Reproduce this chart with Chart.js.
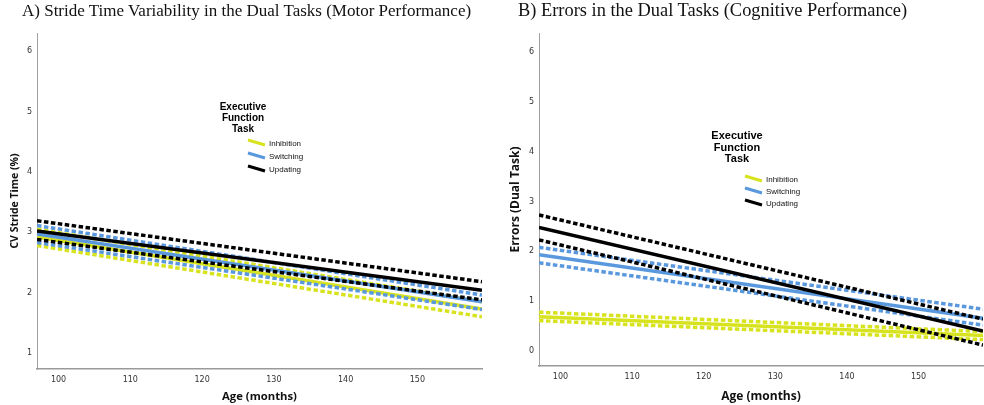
<!DOCTYPE html>
<html>
<head>
  <title>Dual Task Performance by Age</title>
  <script src="https://cdn.jsdelivr.net/npm/chart.js"></script>
  <style>
    body { margin: 0; background: #fff; width: 984px; height: 405px; overflow: hidden; position: relative; }
    .title { position: absolute; font-family: "Liberation Serif", "Times New Roman", serif; color: #111; white-space: nowrap; z-index: 2; }
    #title-a { left: 22px; top: 1px; font-size: 17px; }
    #title-b { left: 518px; top: 0px; font-size: 18.4px; }
    #motor-chart { position: absolute; left: 0; top: 0; }
    #cognitive-chart { position: absolute; left: 495px; top: 0; }
  </style>
</head>
<body>
  <div class="title" id="title-a">A) Stride Time Variability in the Dual Tasks (Motor Performance)</div>
  <div class="title" id="title-b">B) Errors in the Dual Tasks (Cognitive Performance)</div>
  <canvas id="motor-chart" width="492" height="405"></canvas>
  <canvas id="cognitive-chart" width="489" height="405"></canvas>
  <script>
    // age (months) at the two ends of each fitted line
    const ageRange = [97, 159];
    const ageTicks = [100, 110, 120, 130, 140, 150];

    // A) CV stride time (%), [start, end]
    const motorUpdating = [3.02, 2.04];
    const motorUpdatingUpper = [3.19, 2.18];
    const motorUpdatingLower = [2.88, 1.88];
    const motorSwitching = [2.97, 1.85];
    const motorSwitchingUpper = [3.11, 1.96];
    const motorSwitchingLower = [2.83, 1.72];
    const motorInhibition = [2.92, 1.73];
    const motorInhibitionUpper = [3.05, 1.85];
    const motorInhibitionLower = [2.78, 1.60];
    const motorTicks = [1, 2, 3, 4, 5, 6];

    // B) errors in dual task, [start, end]
    const cogUpdating = [2.48, 0.40];
    const cogUpdatingUpper = [2.73, 0.64];
    const cogUpdatingLower = [2.23, 0.12];
    const cogSwitching = [1.93, 0.66];
    const cogSwitchingUpper = [2.08, 0.84];
    const cogSwitchingLower = [1.77, 0.52];
    const cogInhibition = [0.69, 0.31];
    const cogInhibitionUpper = [0.78, 0.39];
    const cogInhibitionLower = [0.61, 0.23];
    const cogTicks = [0, 1, 2, 3, 4, 5, 6];

    const taskNames = ['Inhibition', 'Switching', 'Updating'];
    const YELLOW = '#d8e31f';
    const BLUE = '#5a98de';
    const BLACK = '#000000';

    function line(values, color, dashed) {
      return {
        data: ageRange.map((x, i) => ({x: x, y: values[i]})),
        borderColor: color,
        backgroundColor: color,
        borderWidth: 3.5,
        borderDash: dashed ? [4.5, 2.5] : [],
        pointRadius: 0,
        showLine: true,
        fill: false
      };
    }

    // little legend drawn inside the plot, like the SPSS output
    const taskLegend = {
      id: 'taskLegend',
      afterDraw(chart, args, opts) {
        const ctx = chart.ctx;
        ctx.save();
        ctx.fillStyle = '#000';
        ctx.textAlign = 'center';
        ctx.textBaseline = 'middle';
        ctx.font = 'bold ' + opts.titleSize + 'px "Liberation Sans", Arial, sans-serif';
        ['Executive', 'Function', 'Task'].forEach((t, i) => {
          ctx.fillText(t, opts.x, opts.y + i * opts.titleGap);
        });
        const colors = [YELLOW, BLUE, BLACK];
        ctx.textAlign = 'left';
        ctx.font = opts.itemSize + 'px "Liberation Sans", Arial, sans-serif';
        taskNames.forEach((name, i) => {
          const y = opts.itemY + i * opts.itemGap;
          ctx.strokeStyle = colors[i];
          ctx.lineWidth = 3;
          ctx.beginPath();
          ctx.moveTo(opts.segX, y - 3);
          ctx.lineTo(opts.segX + opts.segW, y + 2);
          ctx.stroke();
          ctx.fillStyle = '#111';
          ctx.fillText(name, opts.segX + opts.segW + 4, y + 1);
        });
        ctx.restore();
      }
    };

    function makeOptions(cfg) {
      return {
        responsive: false,
        animation: false,
        layout: { padding: { top: 33, right: cfg.rightPad, left: 0, bottom: 0 } },
        plugins: {
          legend: { display: false },
          tooltip: { enabled: false },
          taskLegend: cfg.legend
        },
        scales: {
          x: {
            type: 'linear',
            min: ageRange[0],
            max: ageRange[1],
            afterBuildTicks: s => { s.ticks = ageTicks.map(v => ({value: v})); },
            afterFit: s => { s.height = cfg.xHeight; },
            grid: { display: false, drawTicks: false },
            border: { display: true, color: '#9a9a9a', width: 1.5 },
            ticks: { color: '#333', padding: 6, font: { family: '"DejaVu Sans", Verdana, sans-serif', size: 8 } },
            title: {
              display: true, text: 'Age (months)', color: '#111',
              padding: { top: 0, bottom: 1 },
              font: { family: '"Open Sans", "DejaVu Sans", sans-serif', size: cfg.xTitleSize, weight: 'bold' }
            }
          },
          y: {
            type: 'linear',
            min: cfg.yMin,
            max: cfg.yMax,
            afterBuildTicks: s => { s.ticks = cfg.yTicks.map(v => ({value: v})); },
            afterFit: s => { s.width = cfg.yWidth; },
            grid: { display: false, drawTicks: false },
            border: { display: true, color: '#a0a0a0', width: 1, dash: [3, 2] },
            ticks: { color: '#333', padding: 5, font: { family: '"DejaVu Sans", Verdana, sans-serif', size: 8 } },
            title: {
              display: true, text: cfg.yTitle, color: '#111',
              padding: { top: cfg.yTitlePad, bottom: 0 },
              font: { family: '"Open Sans", "DejaVu Sans", sans-serif', size: cfg.yTitleSize, weight: 'bold' }
            }
          }
        }
      };
    }

    const motorChart = new Chart(document.getElementById('motor-chart').getContext('2d'), {
      type: 'scatter',
      data: {
        datasets: [
          line(motorUpdatingUpper, BLACK, true),
          line(motorUpdating, BLACK, false),
          line(motorUpdatingLower, BLACK, true),
          line(motorSwitchingUpper, BLUE, true),
          line(motorSwitching, BLUE, false),
          line(motorSwitchingLower, BLUE, true),
          line(motorInhibitionUpper, YELLOW, true),
          line(motorInhibition, YELLOW, false),
          line(motorInhibitionLower, YELLOW, true)
        ]
      },
      options: makeOptions({
        yMin: 0.735, yMax: 6.3, yTicks: motorTicks, yTitle: 'CV Stride Time (%)',
        yWidth: 37, xHeight: 36, yTitlePad: 9, rightPad: 10, xTitleSize: 11.3, yTitleSize: 10.5,
        legend: { x: 243, y: 107, titleGap: 11, titleSize: 10,
                  segX: 248, segW: 17, itemY: 143, itemGap: 13, itemSize: 8 }
      }),
      plugins: [taskLegend]
    });

    const cognitiveChart = new Chart(document.getElementById('cognitive-chart').getContext('2d'), {
      type: 'scatter',
      data: {
        datasets: [
          line(cogUpdatingUpper, BLACK, true),
          line(cogUpdating, BLACK, false),
          line(cogUpdatingLower, BLACK, true),
          line(cogSwitchingUpper, BLUE, true),
          line(cogSwitching, BLUE, false),
          line(cogSwitchingLower, BLUE, true),
          line(cogInhibitionUpper, YELLOW, true),
          line(cogInhibition, YELLOW, false),
          line(cogInhibitionLower, YELLOW, true)
        ]
      },
      options: makeOptions({
        yMin: -0.3, yMax: 6.38, yTicks: cogTicks, yTitle: 'Errors (Dual Task)',
        yWidth: 44, xHeight: 39, yTitlePad: 13, rightPad: 1, xTitleSize: 12, yTitleSize: 12,
        legend: { x: 242, y: 136, titleGap: 11.5, titleSize: 11,
                  segX: 250, segW: 17, itemY: 179, itemGap: 12, itemSize: 8 }
      }),
      plugins: [taskLegend]
    });
  </script>
</body>
</html>
